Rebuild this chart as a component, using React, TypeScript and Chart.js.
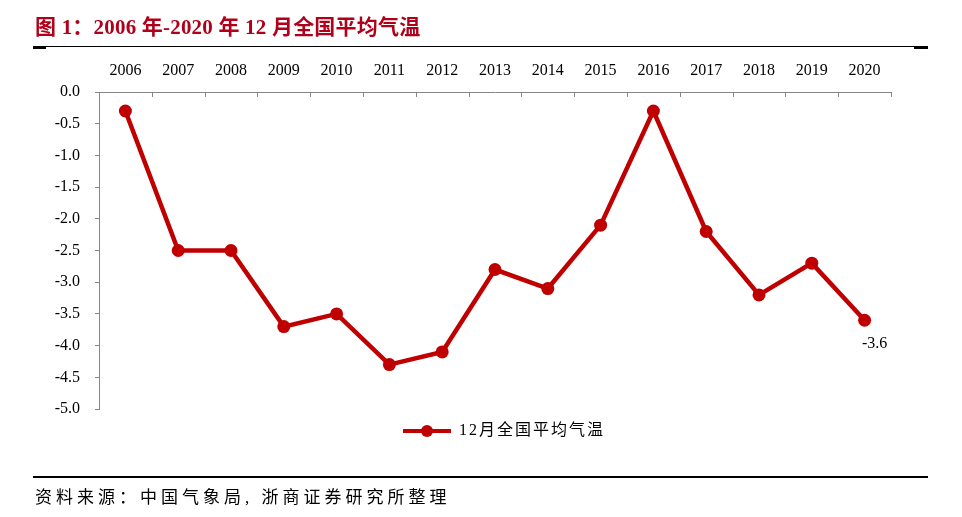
import React, { useEffect, useRef } from "react";
import { Chart, registerables } from "chart.js";

Chart.register(...registerables);

const years = ["2006","2007","2008","2009","2010","2011","2012","2013","2014","2015","2016","2017","2018","2019","2020"];
const temps = [-0.3,-2.5,-2.5,-3.7,-3.5,-4.3,-4.1,-2.8,-3.1,-2.1,-0.3,-2.2,-3.2,-2.7,-3.6];
const seriesName = "12月全国平均气温";
const titleText = "图 1：2006 年-2020 年 12 月全国平均气温";
const sourceText = "资料来源：中国气象局, 浙商证券研究所整理";

const RED = "#C00000";
const AXIS = "#868686";
const SERIF = "'Liberation Serif', 'Times New Roman', 'Noto Sans CJK SC', serif";

function makeLegendIcon(): HTMLCanvasElement {
  const c = document.createElement("canvas");
  c.width = 48;
  c.height = 14;
  const g = c.getContext("2d")!;
  g.strokeStyle = RED;
  g.lineWidth = 4;
  g.beginPath();
  g.moveTo(0, 7);
  g.lineTo(48, 7);
  g.stroke();
  g.fillStyle = RED;
  g.beginPath();
  g.arc(24, 7, 6, 0, Math.PI * 2);
  g.fill();
  return c;
}

const innerTicks = {
  id: "innerTicks",
  afterDatasetsDraw(chart: any) {
    const x = chart.scales.x;
    const ctx = chart.ctx;
    const n = x.ticks.length;
    if (!n) return;
    const half = (x.getPixelForTick(1) - x.getPixelForTick(0)) / 2;
    ctx.save();
    ctx.strokeStyle = AXIS;
    ctx.lineWidth = 1;
    ctx.beginPath();
    for (let i = 0; i <= n; i++) {
      const px = Math.round(x.getPixelForTick(Math.min(i, n - 1)) + (i === n ? half : -half)) + 0.5;
      ctx.moveTo(px, chart.chartArea.top);
      ctx.lineTo(px, chart.chartArea.top + 5);
    }
    ctx.stroke();
    ctx.restore();
  },
};

const lastLabel = {
  id: "lastLabel",
  afterDatasetsDraw(chart: any) {
    const meta = chart.getDatasetMeta(0);
    const i = temps.length - 1;
    const pt = meta.data[i];
    if (!pt) return;
    const ctx = chart.ctx;
    ctx.save();
    ctx.font = `16px ${SERIF}`;
    ctx.fillStyle = "#000";
    ctx.textAlign = "center";
    ctx.textBaseline = "middle";
    ctx.fillText(temps[i].toFixed(1), pt.x + 10, pt.y + 24);
    ctx.restore();
  },
};

const legendSpacing = {
  id: "legendSpacing",
  afterUpdate(chart: any) {
    const lg = chart.legend;
    if (!lg || lg._spaced) return;
    const orig = lg.draw.bind(lg);
    lg.draw = (area: any) => {
      const ctx = chart.ctx as any;
      const prev = ctx.letterSpacing;
      ctx.letterSpacing = "2px";
      orig(area);
      ctx.letterSpacing = prev || "0px";
    };
    lg._spaced = true;
  },
};

export default function App() {
  const ref = useRef<HTMLCanvasElement>(null);

  useEffect(() => {
    document.body.style.margin = "0";
    const icon = makeLegendIcon();
    const chart = new Chart(ref.current!, {
      type: "line",
      data: {
        labels: years,
        datasets: [
          {
            label: seriesName,
            data: temps,
            borderColor: RED,
            backgroundColor: RED,
            borderWidth: 4.5,
            pointRadius: 6.5,
            pointBackgroundColor: RED,
            pointBorderWidth: 0,
            tension: 0,
          },
        ],
      },
      options: {
        responsive: false,
        animation: false,
        events: [],
        layout: { padding: { left: 39, right: 71, top: 52, bottom: 68 } },
        plugins: {
          legend: {
            position: "bottom",
            fullSize: false,
            labels: {
              usePointStyle: true,
              pointStyle: icon as any,
              pointStyleWidth: 48,
              padding: 14,
              color: "#000",
              font: { size: 16, family: SERIF },
              generateLabels: () => [
                { text: seriesName, pointStyle: icon as any, fillStyle: RED, strokeStyle: RED, lineWidth: 0, datasetIndex: 0, hidden: false } as any,
              ],
            },
          },
          tooltip: { enabled: false },
        },
        scales: {
          x: {
            type: "category",
            position: "top",
            offset: true,
            grid: { display: false },
            border: { display: true, color: AXIS, width: 1 },
            ticks: { color: "#000", font: { size: 16, family: SERIF }, padding: 4, maxRotation: 0, autoSkip: false },
            afterFit: (s: any) => { s.height = 40; },
          },
          y: {
            min: -5,
            max: 0,
            grid: { drawOnChartArea: false, drawTicks: true, tickLength: 4, color: AXIS },
            border: { display: true, color: AXIS, width: 1 },
            ticks: {
              stepSize: 0.5,
              color: "#000",
              font: { size: 16, family: SERIF },
              padding: 15,
              callback: (v: any) => Number(v).toFixed(1),
            },
            afterFit: (s: any) => { s.width = 60; },
          },
        },
      },
      plugins: [innerTicks, lastLabel, legendSpacing],
    });
    return () => chart.destroy();
  }, []);

  return (
    <div style={{ position: "relative", width: 962, height: 517, background: "#fff", overflow: "hidden" }}>
      <canvas ref={ref} width={962} height={517} style={{ position: "absolute", left: 0, top: 0, width: 962, height: 517 }} />
      <div
        style={{
          position: "absolute",
          left: 35,
          top: 15,
          color: "#B0001A",
          fontWeight: "bold",
          fontSize: 21,
          lineHeight: "25px",
          letterSpacing: "0.2px",
          fontFamily: "'Liberation Serif', 'Noto Sans CJK SC', serif",
          whiteSpace: "nowrap",
        }}
      >
        {titleText}
      </div>
      <div style={{ position: "absolute", left: 33, top: 46, width: 895, height: 1, background: "#000" }} />
      <div style={{ position: "absolute", left: 33, top: 46, width: 13, height: 3, background: "#000" }} />
      <div style={{ position: "absolute", left: 914, top: 46, width: 14, height: 3, background: "#000" }} />
      <div style={{ position: "absolute", left: 33, top: 476, width: 895, height: 2, background: "#000" }} />
      <div
        style={{
          position: "absolute",
          left: 35,
          top: 487,
          color: "#000",
          fontSize: 17,
          lineHeight: "22px",
          letterSpacing: "4px",
          fontFamily: "'Liberation Serif', 'Noto Sans CJK SC', serif",
          whiteSpace: "nowrap",
        }}
      >
        {sourceText}
      </div>
    </div>
  );
}
